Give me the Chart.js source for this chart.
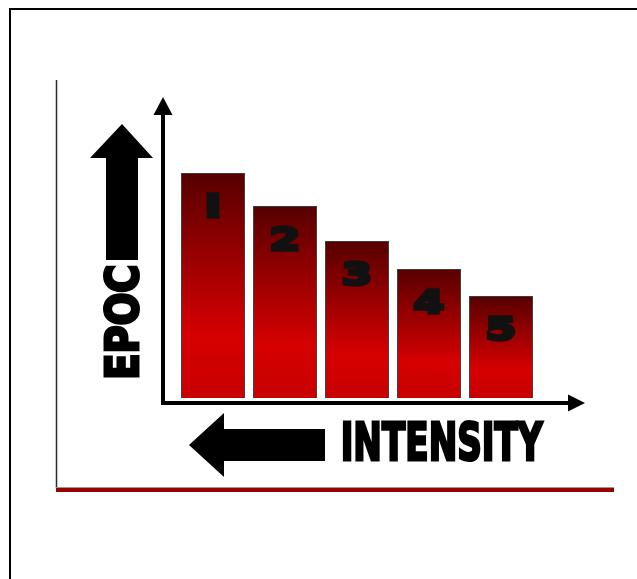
<!DOCTYPE html>
<html>
<head>
<meta charset="utf-8">
<script src="https://cdn.jsdelivr.net/npm/chart.js@4/dist/chart.umd.min.js"></script>
<style>
  html, body { margin: 0; padding: 0; background: #fff; }
  canvas { display: block; }
</style>
</head>
<body>
<canvas id="epocChart" width="637" height="579"></canvas>
<script>
// intensity levels (left = highest EPOC) and relative EPOC heights
const categories = ['I', '2', '3', '4', '5']
const epocValues = [225, 192, 157, 129, 102]
const yMax = 300
const yTitle = 'EPOC'
const xTitle = 'INTENSITY'

function barGradient(ctx) {
  const chart = ctx.chart
  if (!chart.chartArea || ctx.parsed === undefined) return '#c00000'
  const y = chart.scales.y
  const top = y.getPixelForValue(ctx.parsed.y)
  const base = y.getPixelForValue(0)
  const g = chart.ctx.createLinearGradient(0, top, 0, base)
  g.addColorStop(0, '#560000')
  g.addColorStop(0.3, '#8c0000')
  g.addColorStop(0.72, '#d60000')
  g.addColorStop(1, '#c80000')
  return g
}

// fit a text's ink box into w x h centred on (cx, cy), thickened by a stroke
function fitText(c, text, cx, cy, w, h, rot, sw) {
  c.save()
  c.font = 'bold 60px "DejaVu Sans"'
  c.textAlign = 'left'
  c.textBaseline = 'alphabetic'
  const m = c.measureText(text)
  const iw = m.actualBoundingBoxLeft + m.actualBoundingBoxRight
  const ih = m.actualBoundingBoxAscent + m.actualBoundingBoxDescent
  const sx = (w - sw) / iw
  const sy = (h - sw) / ih
  c.translate(cx, cy)
  c.rotate(rot || 0)
  c.scale(sx, sy)
  c.fillStyle = '#000'
  c.strokeStyle = '#000'
  c.lineWidth = sw / sy
  c.lineJoin = 'miter'
  const tx = (m.actualBoundingBoxLeft - m.actualBoundingBoxRight) / 2
  const ty = (m.actualBoundingBoxAscent - m.actualBoundingBoxDescent) / 2
  c.fillText(text, tx, ty)
  c.strokeText(text, tx, ty)
  c.restore()
}

const decor = {
  id: 'decor',
  beforeDraw(chart) {
    const c = chart.ctx
    const a = chart.chartArea
    c.save()
    // outer frame
    c.strokeStyle = '#000'
    c.lineWidth = 2
    c.beginPath()
    c.moveTo(10, 579)
    c.lineTo(10, 9)
    c.lineTo(637, 9)
    c.stroke()
    // inner panel edge
    c.strokeStyle = '#2a2a2a'
    c.lineWidth = 1.5
    c.beginPath()
    c.moveTo(56.5, 80)
    c.lineTo(56.5, 488)
    c.stroke()
    c.strokeStyle = '#999'
    c.lineWidth = 1
    c.beginPath()
    c.moveTo(56, 487.5)
    c.lineTo(614, 487.5)
    c.stroke()
    c.fillStyle = '#990000'
    c.fillRect(56, 488, 558, 4)

    // axes with arrowheads
    const ax = a.left - 14
    const ay = a.bottom + 5
    c.strokeStyle = '#000'
    c.lineWidth = 4
    c.lineJoin = 'miter'
    c.beginPath()
    c.moveTo(ax, a.top + 15)
    c.lineTo(ax, ay)
    c.lineTo(a.right + 33, ay)
    c.stroke()
    c.fillStyle = '#000'
    c.beginPath()
    c.moveTo(ax, a.top - 1)
    c.lineTo(ax + 9.5, a.top + 17)
    c.lineTo(ax - 9.5, a.top + 17)
    c.closePath()
    c.fill()
    c.beginPath()
    c.moveTo(a.right + 48, ay)
    c.lineTo(a.right + 31, ay - 8.5)
    c.lineTo(a.right + 31, ay + 8.5)
    c.closePath()
    c.fill()

    // big up arrow
    c.beginPath()
    c.moveTo(122, 124)
    c.lineTo(153, 158)
    c.lineTo(138, 158)
    c.lineTo(138, 260)
    c.lineTo(106, 260)
    c.lineTo(106, 158)
    c.lineTo(90, 158)
    c.closePath()
    c.fill()
    // big left arrow
    c.beginPath()
    c.moveTo(189, 445)
    c.lineTo(224, 413)
    c.lineTo(224, 429)
    c.lineTo(325, 429)
    c.lineTo(325, 461)
    c.lineTo(224, 461)
    c.lineTo(224, 477)
    c.closePath()
    c.fill()
    c.restore()

    fitText(c, yTitle, 121.5, 321.5, 113, 37, -Math.PI / 2, 3)
    fitText(c, xTitle, 443.5, 440.5, 203, 43, 0, 3)
  },
  afterDatasetsDraw(chart) {
    const c = chart.ctx
    const meta = chart.getDatasetMeta(0)
    c.save()
    c.font = 'bold 34px "DejaVu Sans"'
    c.textAlign = 'center'
    c.textBaseline = 'middle'
    c.fillStyle = '#111'
    c.strokeStyle = '#111'
    c.lineWidth = 3.5
    c.lineJoin = 'miter'
    meta.data.forEach((bar, i) => {
      c.save()
      c.translate(bar.x, bar.y + 36)
      c.scale(1.28, 0.95)
      c.fillText(categories[i], 0, 0)
      c.strokeText(categories[i], 0, 0)
      c.restore()
    })
    c.restore()
  }
}

new Chart(document.getElementById('epocChart'), {
  type: 'bar',
  data: {
    labels: categories,
    datasets: [{
      data: epocValues,
      backgroundColor: barGradient,
      borderColor: '#3c3c3c',
      borderWidth: 1,
      categoryPercentage: 1,
      barPercentage: 0.89
    }]
  },
  options: {
    responsive: false,
    animation: false,
    layout: { padding: { left: 177, right: 100, top: 98, bottom: 181 } },
    scales: {
      x: { display: false, offset: true },
      y: { display: false, min: 0, max: yMax }
    },
    plugins: { legend: { display: false }, tooltip: { enabled: false } }
  },
  plugins: [decor]
})
</script>
</body>
</html>
